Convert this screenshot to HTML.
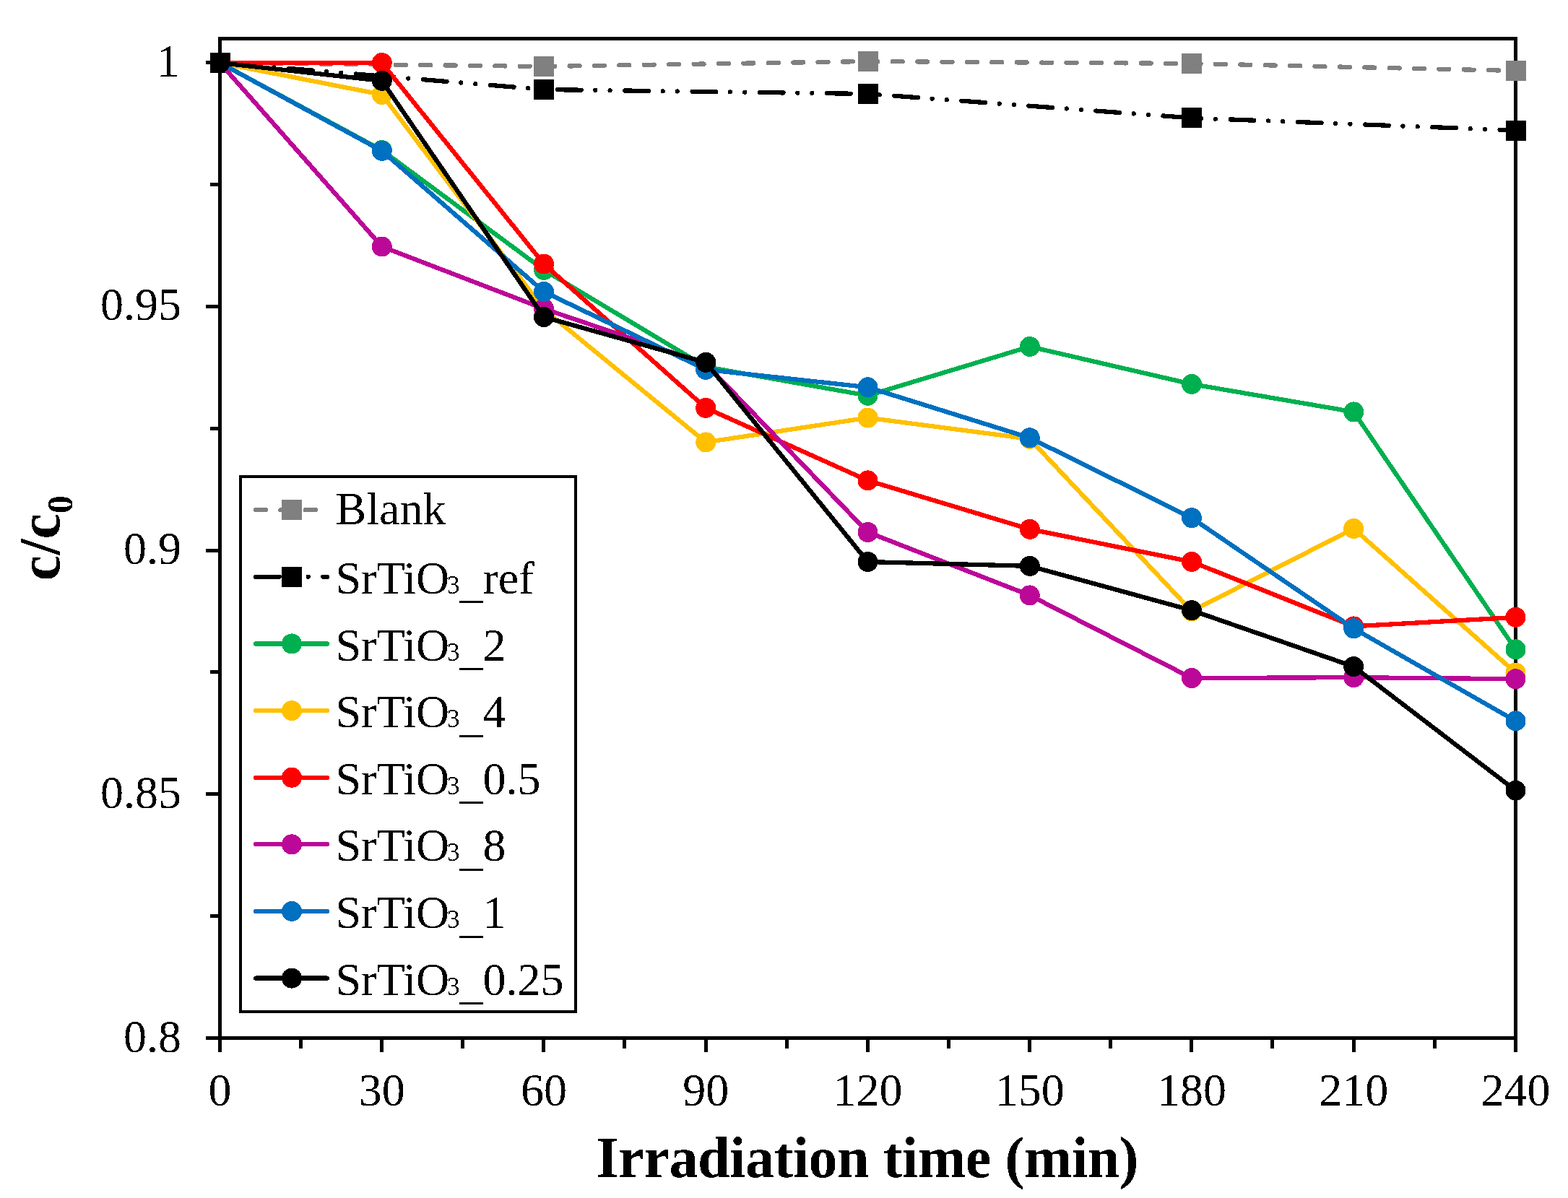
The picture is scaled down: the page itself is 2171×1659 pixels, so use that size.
<!DOCTYPE html>
<html><head><meta charset="utf-8"><title>c/c0 vs irradiation time</title>
<style>html,body{margin:0;padding:0;background:#fff;overflow:hidden}svg{display:block}</style>
</head><body>
<svg width="2171" height="1659" viewBox="0 0 2171 1659">
<rect x="0" y="0" width="2171" height="1659" fill="#fff"/>
<defs><filter id="bin" x="-50" y="-50" width="2300" height="1800" filterUnits="userSpaceOnUse" color-interpolation-filters="sRGB"><feComponentTransfer><feFuncA type="discrete" tableValues="0 1"/></feComponentTransfer></filter></defs>
<g shape-rendering="crispEdges">
<rect x="304.5" y="53.5" width="1794" height="1384" fill="none" stroke="#000" stroke-width="5"/>
<path d="M285 1437.50H304 M285 1099.50H304 M285 762.50H304 M285 424.50H304 M285 86.50H304 M291 1268.50H304 M291 930.50H304 M291 593.50H304 M291 255.50H304 M304.50 1437V1457 M528.50 1437V1457 M752.50 1437V1457 M977.50 1437V1457 M1201.50 1437V1457 M1425.50 1437V1457 M1649.50 1437V1457 M1874.50 1437V1457 M2098.50 1437V1457 M416.50 1437V1452 M640.50 1437V1452 M864.50 1437V1452 M1089.50 1437V1452 M1313.50 1437V1452 M1537.50 1437V1452 M1761.50 1437V1452 M1986.50 1437V1452" stroke="#000" stroke-width="5" fill="none"/>
<g font-family="'Liberation Serif','Times New Roman',serif" font-size="64" fill="#000" filter="url(#bin)"><text x="248.8" y="105.70" text-anchor="end">1</text><text x="251.0" y="443.45" text-anchor="end">0.95</text><text x="251.0" y="781.20" text-anchor="end">0.9</text><text x="251.0" y="1118.95" text-anchor="end">0.85</text><text x="251.0" y="1456.70" text-anchor="end">0.8</text><text x="304.50" y="1530.8" text-anchor="middle">0</text><text x="528.75" y="1530.8" text-anchor="middle">30</text><text x="753.00" y="1530.8" text-anchor="middle">60</text><text x="977.25" y="1530.8" text-anchor="middle">90</text><text x="1201.50" y="1530.8" text-anchor="middle">120</text><text x="1425.75" y="1530.8" text-anchor="middle">150</text><text x="1650.00" y="1530.8" text-anchor="middle">180</text><text x="1874.25" y="1530.8" text-anchor="middle">210</text><text x="2098.50" y="1530.8" text-anchor="middle">240</text></g>
<text filter="url(#bin)" font-family="'Liberation Serif','Times New Roman',serif" font-size="80" font-weight="bold" x="1201" y="1630" text-anchor="middle" textLength="750.8" lengthAdjust="spacing">Irradiation time (min)</text>
<g filter="url(#bin)"><text font-family="'Liberation Serif','Times New Roman',serif" font-size="80" font-weight="bold" transform="translate(82 745) rotate(-90)" text-anchor="middle">c/c<tspan font-size="50" dy="17.5">0</tspan></text></g>
<polyline points="304.50,87.00 753.00,92.00 1201.50,85.00 1650.00,88.00 2098.50,98.00" fill="none" stroke="#808080" stroke-width="6.25" stroke-dasharray="14 20.4" stroke-dashoffset="-2.5" stroke-linecap="round"/>
<rect x="739.00" y="78.00" width="28.0" height="28.0" fill="#808080"/><rect x="1187.50" y="71.00" width="28.0" height="28.0" fill="#808080"/><rect x="1636.00" y="74.00" width="28.0" height="28.0" fill="#808080"/><rect x="2084.50" y="84.00" width="28.0" height="28.0" fill="#808080"/>
<polyline points="304.50,87.00 753.00,124.00 1201.50,130.00 1650.00,163.40 2098.50,180.50" fill="none" stroke="#000000" stroke-width="6.25" stroke-dasharray="32.7 19.7 0 20.2 0 20.7" stroke-dashoffset="-2.5" stroke-linecap="round"/>
<rect x="290.50" y="73.00" width="28.0" height="28.0" fill="#000000"/><rect x="739.00" y="110.00" width="28.0" height="28.0" fill="#000000"/><rect x="1187.50" y="116.00" width="28.0" height="28.0" fill="#000000"/><rect x="1636.00" y="149.40" width="28.0" height="28.0" fill="#000000"/><rect x="2084.50" y="166.50" width="28.0" height="28.0" fill="#000000"/>
<polyline points="304.50,87.00 528.75,208.00 753.00,373.80 977.25,508.00 1201.50,547.80 1425.75,480.00 1650.00,531.90 1874.25,570.40 2098.50,899.40" fill="none" stroke="#00B050" stroke-width="6.25" stroke-linejoin="round" stroke-linecap="round"/>
<circle cx="528.75" cy="208.00" r="14.0" fill="#00B050"/><circle cx="753.00" cy="373.80" r="14.0" fill="#00B050"/><circle cx="977.25" cy="508.00" r="14.0" fill="#00B050"/><circle cx="1201.50" cy="547.80" r="14.0" fill="#00B050"/><circle cx="1425.75" cy="480.00" r="14.0" fill="#00B050"/><circle cx="1650.00" cy="531.90" r="14.0" fill="#00B050"/><circle cx="1874.25" cy="570.40" r="14.0" fill="#00B050"/><circle cx="2098.50" cy="899.40" r="14.0" fill="#00B050"/>
<polyline points="304.50,87.00 528.75,131.00 753.00,428.50 977.25,612.40 1201.50,578.60 1425.75,607.80 1650.00,846.40 1874.25,732.00 2098.50,931.60" fill="none" stroke="#FFC000" stroke-width="6.25" stroke-linejoin="round" stroke-linecap="round"/>
<circle cx="528.75" cy="131.00" r="14.0" fill="#FFC000"/><circle cx="753.00" cy="428.50" r="14.0" fill="#FFC000"/><circle cx="977.25" cy="612.40" r="14.0" fill="#FFC000"/><circle cx="1201.50" cy="578.60" r="14.0" fill="#FFC000"/><circle cx="1425.75" cy="607.80" r="14.0" fill="#FFC000"/><circle cx="1650.00" cy="846.40" r="14.0" fill="#FFC000"/><circle cx="1874.25" cy="732.00" r="14.0" fill="#FFC000"/><circle cx="2098.50" cy="931.60" r="14.0" fill="#FFC000"/>
<polyline points="304.50,87.00 528.75,87.00 753.00,365.50 977.25,564.90 1201.50,665.40 1425.75,732.90 1650.00,777.90 1874.25,867.40 2098.50,854.80" fill="none" stroke="#FF0000" stroke-width="6.25" stroke-linejoin="round" stroke-linecap="round"/>
<circle cx="528.75" cy="87.00" r="14.0" fill="#FF0000"/><circle cx="753.00" cy="365.50" r="14.0" fill="#FF0000"/><circle cx="977.25" cy="564.90" r="14.0" fill="#FF0000"/><circle cx="1201.50" cy="665.40" r="14.0" fill="#FF0000"/><circle cx="1425.75" cy="732.90" r="14.0" fill="#FF0000"/><circle cx="1650.00" cy="777.90" r="14.0" fill="#FF0000"/><circle cx="1874.25" cy="867.40" r="14.0" fill="#FF0000"/><circle cx="2098.50" cy="854.80" r="14.0" fill="#FF0000"/>
<polyline points="304.50,87.00 528.75,341.50 753.00,427.50 977.25,504.00 1201.50,737.00 1425.75,824.40 1650.00,939.00 1874.25,938.20 2098.50,940.20" fill="none" stroke="#BC0898" stroke-width="6.25" stroke-linejoin="round" stroke-linecap="round"/>
<circle cx="528.75" cy="341.50" r="14.0" fill="#BC0898"/><circle cx="753.00" cy="427.50" r="14.0" fill="#BC0898"/><circle cx="977.25" cy="504.00" r="14.0" fill="#BC0898"/><circle cx="1201.50" cy="737.00" r="14.0" fill="#BC0898"/><circle cx="1425.75" cy="824.40" r="14.0" fill="#BC0898"/><circle cx="1650.00" cy="939.00" r="14.0" fill="#BC0898"/><circle cx="1874.25" cy="938.20" r="14.0" fill="#BC0898"/><circle cx="2098.50" cy="940.20" r="14.0" fill="#BC0898"/>
<polyline points="304.50,87.00 528.75,208.90 753.00,403.90 977.25,511.80 1201.50,536.30 1425.75,606.30 1650.00,717.20 1874.25,870.30 2098.50,998.40" fill="none" stroke="#0070C0" stroke-width="6.25" stroke-linejoin="round" stroke-linecap="round"/>
<circle cx="528.75" cy="208.90" r="14.0" fill="#0070C0"/><circle cx="753.00" cy="403.90" r="14.0" fill="#0070C0"/><circle cx="977.25" cy="511.80" r="14.0" fill="#0070C0"/><circle cx="1201.50" cy="536.30" r="14.0" fill="#0070C0"/><circle cx="1425.75" cy="606.30" r="14.0" fill="#0070C0"/><circle cx="1650.00" cy="717.20" r="14.0" fill="#0070C0"/><circle cx="1874.25" cy="870.30" r="14.0" fill="#0070C0"/><circle cx="2098.50" cy="998.40" r="14.0" fill="#0070C0"/>
<polyline points="304.50,87.00 528.75,111.90 753.00,439.00 977.25,501.80 1201.50,778.00 1425.75,783.90 1650.00,845.20 1874.25,923.10 2098.50,1094.70" fill="none" stroke="#000000" stroke-width="6.25" stroke-linejoin="round" stroke-linecap="round"/>
<circle cx="304.50" cy="87.00" r="14.0" fill="#000000"/><circle cx="528.75" cy="111.90" r="14.0" fill="#000000"/><circle cx="753.00" cy="439.00" r="14.0" fill="#000000"/><circle cx="977.25" cy="501.80" r="14.0" fill="#000000"/><circle cx="1201.50" cy="778.00" r="14.0" fill="#000000"/><circle cx="1425.75" cy="783.90" r="14.0" fill="#000000"/><circle cx="1650.00" cy="845.20" r="14.0" fill="#000000"/><circle cx="1874.25" cy="923.10" r="14.0" fill="#000000"/><circle cx="2098.50" cy="1094.70" r="14.0" fill="#000000"/>
<rect x="333" y="660" width="463.5" height="741" fill="#fff" stroke="#000" stroke-width="4"/>
<g font-family="'Liberation Serif','Times New Roman',serif" font-size="64" fill="#000" filter="url(#bin)"><path d="M354 706.20H453" stroke="#808080" stroke-width="6.25" fill="none" stroke-dasharray="14 20.4" stroke-linecap="round"/><rect x="390.00" y="692.20" width="28.0" height="28.0" fill="#808080"/><text x="464.5" y="726.00">Blank</text><path d="M354 798.83H453" stroke="#000000" stroke-width="6.25" fill="none" stroke-dasharray="32.7 19.7 0 20.2 0 20.7" stroke-linecap="round"/><rect x="390.00" y="784.83" width="28.0" height="28.0" fill="#000000"/><text x="464.5" y="821.93">SrTiO<tspan font-size="35.5" dx="-3.5">3</tspan><tspan dy="5.5">_</tspan><tspan dy="-5.5">ref</tspan></text><path d="M354 891.46H453" stroke="#00B050" stroke-width="6.25" fill="none" stroke-linecap="round"/><circle cx="404.00" cy="891.46" r="14.0" fill="#00B050"/><text x="464.5" y="914.56">SrTiO<tspan font-size="35.5" dx="-3.5">3</tspan><tspan dy="5.5">_</tspan><tspan dy="-5.5">2</tspan></text><path d="M354 984.09H453" stroke="#FFC000" stroke-width="6.25" fill="none" stroke-linecap="round"/><circle cx="404.00" cy="984.09" r="14.0" fill="#FFC000"/><text x="464.5" y="1007.19">SrTiO<tspan font-size="35.5" dx="-3.5">3</tspan><tspan dy="5.5">_</tspan><tspan dy="-5.5">4</tspan></text><path d="M354 1076.72H453" stroke="#FF0000" stroke-width="6.25" fill="none" stroke-linecap="round"/><circle cx="404.00" cy="1076.72" r="14.0" fill="#FF0000"/><text x="464.5" y="1099.82">SrTiO<tspan font-size="35.5" dx="-3.5">3</tspan><tspan dy="5.5">_</tspan><tspan dy="-5.5">0.5</tspan></text><path d="M354 1169.35H453" stroke="#BC0898" stroke-width="6.25" fill="none" stroke-linecap="round"/><circle cx="404.00" cy="1169.35" r="14.0" fill="#BC0898"/><text x="464.5" y="1192.45">SrTiO<tspan font-size="35.5" dx="-3.5">3</tspan><tspan dy="5.5">_</tspan><tspan dy="-5.5">8</tspan></text><path d="M354 1261.98H453" stroke="#0070C0" stroke-width="6.25" fill="none" stroke-linecap="round"/><circle cx="404.00" cy="1261.98" r="14.0" fill="#0070C0"/><text x="464.5" y="1285.08">SrTiO<tspan font-size="35.5" dx="-3.5">3</tspan><tspan dy="5.5">_</tspan><tspan dy="-5.5">1</tspan></text><path d="M354 1354.61H453" stroke="#000000" stroke-width="6.25" fill="none" stroke-linecap="round"/><circle cx="404.00" cy="1354.61" r="14.0" fill="#000000"/><text x="464.5" y="1377.71">SrTiO<tspan font-size="35.5" dx="-3.5">3</tspan><tspan dy="5.5">_</tspan><tspan dy="-5.5">0.25</tspan></text></g>
</g>
</svg>
</body></html>
